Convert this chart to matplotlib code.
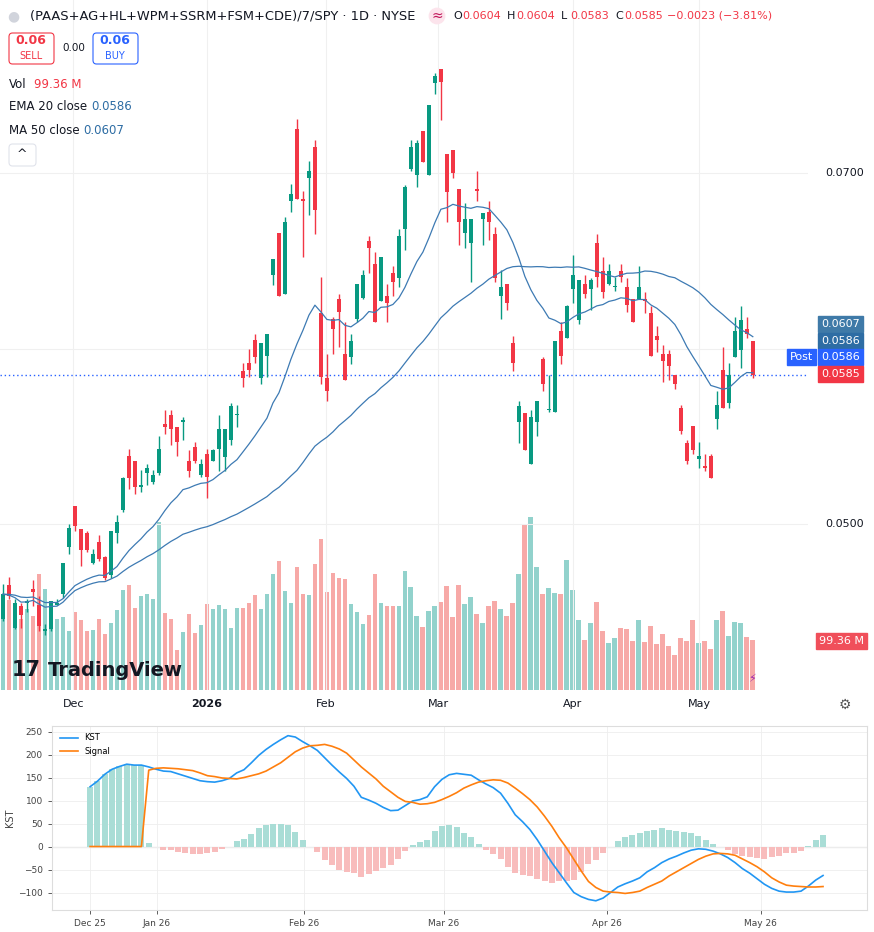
import numpy as np
import pandas as pd
import matplotlib
matplotlib.use("Agg")
import matplotlib.pyplot as plt
from matplotlib.patches import FancyBboxPatch

# ---------------- data (prices in thousandths) ----------------
O = [44.6,46.5,44.1,45.3,45.5,46.3,45.4,43.9,44.0,45.4,46.0,48.7,51.0,49.7,49.5,47.8,49.0,48.1,47.1,49.5,
     50.8,53.9,53.6,52.1,52.9,52.4,52.9,55.7,56.2,55.5,55.8,53.6,54.4,52.8,54.0,53.6,54.3,53.8,54.8,56.2,
     58.7,59.2,60.5,58.3,59.6,64.2,66.6,63.1,68.4,72.5,68.5,69.7,71.5,62.0,58.3,61.7,62.8,59.7,59.5,61.7,
     62.9,66.1,64.8,62.7,63.0,64.3,64.0,66.8,70.2,69.9,72.4,69.9,75.1,75.9,71.1,71.3,69.1,66.6,66.0,69.1,
     67.4,67.8,66.5,63.0,63.7,60.3,55.8,56.3,53.4,55.8,59.4,56.5,56.4,61.0,60.6,63.4,61.6,63.7,63.4,66.0,
     64.4,63.7,63.5,64.4,63.5,62.8,62.8,62.8,62.0,60.7,59.7,59.7,58.5,56.6,54.6,55.6,53.7,53.3,53.9,56.0,
     58.8,56.9,59.5,59.9,61.1,60.4]
C = [46.0,45.9,45.5,44.8,45.6,46.1,44.2,44.0,45.6,45.5,47.8,49.8,49.9,48.5,48.5,48.3,48.0,46.9,49.6,50.1,
     52.6,52.6,52.1,52.2,53.2,52.8,54.3,55.5,55.4,54.7,55.9,53.0,53.6,53.4,52.7,54.2,55.4,55.4,56.7,56.2,
     58.3,58.8,59.5,60.3,60.8,65.1,63.0,67.2,68.8,68.5,68.4,70.1,67.9,58.4,57.6,61.1,62.1,58.2,60.4,63.7,
     64.2,65.7,61.5,65.2,62.6,63.8,66.4,69.2,71.5,71.7,70.6,73.9,75.5,75.2,68.9,70.0,67.2,67.4,67.4,69.0,
     67.7,67.2,64.0,63.5,62.6,59.2,56.7,54.2,56.1,57.0,58.0,56.5,60.4,59.6,62.4,64.2,63.9,63.1,63.9,64.1,
     63.2,64.4,63.5,64.1,62.5,61.5,63.5,62.7,59.6,60.5,59.3,59.0,58.0,55.3,53.6,54.2,53.9,53.2,52.6,56.8,
     56.6,58.5,61.0,61.6,60.8,58.5]
H = [46.6,47.0,45.7,45.5,45.7,46.8,45.9,44.3,45.6,45.7,47.8,50.0,51.0,49.7,49.6,48.6,49.4,48.2,49.6,50.5,
     52.7,54.3,53.6,53.1,53.4,53.1,55.0,56.5,56.5,55.5,56.1,54.2,54.7,53.7,54.3,54.3,56.2,55.4,56.9,56.8,
     59.2,60.0,60.8,60.3,60.8,65.1,66.6,67.5,69.4,73.1,69.0,70.7,71.9,64.1,59.7,61.8,63.1,61.5,60.8,63.7,
     64.5,66.4,65.5,65.2,63.7,64.7,66.8,69.3,71.9,71.9,72.4,73.9,75.7,75.9,71.1,71.3,69.1,68.3,67.4,70.1,
     67.7,68.4,66.9,64.5,63.7,60.7,57.0,56.3,56.5,57.0,59.5,58.5,60.4,61.5,62.5,65.3,63.9,64.2,64.0,66.5,
     65.2,64.8,64.1,64.8,64.0,62.8,64.7,63.2,62.4,61.3,60.2,59.9,58.5,56.8,54.8,55.6,54.7,54.0,54.0,57.6,
     60.1,59.2,61.8,62.4,61.8,60.4]
L = [44.5,45.7,44.0,44.1,45.0,45.3,43.9,43.7,43.9,45.4,45.8,48.3,49.6,47.6,48.4,47.7,47.9,46.8,46.9,48.9,
     50.7,52.0,51.7,51.8,52.2,52.3,52.8,55.1,54.5,53.9,54.8,52.7,53.5,52.7,51.5,53.6,53.0,53.0,54.5,55.5,
     57.8,58.4,59.2,58.0,58.4,63.6,63.0,63.1,67.8,68.5,65.2,67.6,66.5,58.0,57.0,59.7,60.1,58.2,59.1,61.5,
     62.8,64.3,61.5,62.7,61.5,63.0,63.5,65.6,70.1,69.2,70.6,69.9,74.5,73.0,67.2,69.7,65.9,65.7,63.8,68.4,
     65.9,66.2,63.8,61.7,62.2,58.7,54.6,54.2,53.4,55.0,57.6,56.4,56.4,59.1,60.6,62.6,61.4,62.9,62.2,63.5,
     62.9,63.6,63.3,63.8,62.1,61.5,62.8,62.0,59.6,59.8,58.1,58.2,57.7,55.1,53.4,54.0,53.2,53.0,52.6,55.4,
     56.6,56.6,59.5,58.9,60.6,58.3]
VOL_M = [148,180,154,142,162,148,232,202,142,142,146,118,156,140,118,120,142,112,134,160,200,210,164,188,
         192,182,336,154,142,80,116,152,114,130,172,162,170,162,124,164,164,
         174,190,162,192,232,258,198,174,246,192,190,252,302,196,234,224,222,172,156,132,
         150,232,174,168,168,168,238,206,148,126,158,168,176,208,146,210,172,186,152,134,
         168,178,162,148,174,232,330,346,246,192,204,194,192,260,200,140,100,134,176,118,
         94,104,124,122,98,140,96,128,92,112,88,70,104,98,140,94,98,82,140,158,
         108,136,134,106,99.36]
month_labels = ["Dec", "2026", "Feb", "Mar", "Apr", "May"]
month_pos = [11.7, 34.0, 53.8, 72.5, 95.0, 116.0]

KST = [130,142,157,168,174,179,177,177,173,168, 164,163,158,153,148,143,141,140,143,148,
       160,167,182,198,211,222,232,241,238,228, 219,209,193,177,162,148,131,107,101,94,
       85,78,79,89,99,102,108,130,146,156, 159,157,155,145,136,128,116,94,69,54,
       37,15,-10,-35,-57,-79,-100,-109,-115,-118, -112,-100,-88,-81,-75,-68,-55,-46,-35,-27,
       -21,-14,-8,-5,-6,-10,-16,-24,-35,-48, -58,-70,-82,-91,-97,-99,-99,-97,-86,-73, -63]
SIGNAL = [0,0,0,0,0,0,0,0,166,170, 171,170,169,167,165,160,154,152,149,148,
          147,150,154,158,164,173,182,194,206,214, 219,220,222,218,212,203,188,173,160,147,
          131,119,107,98,96,92,93,96,102,109, 117,127,134,140,143,145,144,138,127,115,
          102,86,66,44,19,-3,-28,-53,-76,-89, -97,-99,-100,-102,-100,-97,-89,-82,-75,-64,
          -55,-46,-37,-28,-21,-16,-15,-16,-19,-27, -35,-44,-55,-68,-77,-84,-86,-87,-88,-88, -87]
kst_tick_labels = ["Dec 25", "Jan 26", "Feb 26", "Mar 26", "Apr 26", "May 26"]
kst_tick_pos = [0, 9.1, 29.2, 48.3, 70.5, 91.5]

# ---------------- figure ----------------
W, Hh = 874, 932
fig = plt.figure(figsize=(W/100, Hh/100), dpi=100)
plt.rcParams['font.family'] = ['DejaVu Sans']

def fx(x): return x / W
def fy(y): return 1 - y / Hh

GREEN, RED = '#089981', '#f23645'
VG, VR = '#92d2cc', '#f7a9a7'

o = np.array(O) / 1000; c = np.array(C) / 1000
h = np.array(H) / 1000; l = np.array(L) / 1000
n = len(o); idx = np.arange(n)
up = c >= o

ax = fig.add_axes([0, fy(690), fx(808), 690 / Hh])
axv = ax.twinx()
axv.set_zorder(0); ax.set_zorder(1); ax.patch.set_visible(False)
axv.bar(idx, VOL_M, width=0.8, color=[VG if u else VR for u in up], linewidth=0)
axv.set_ylim(0, 1380)
axv.axis('off')

ppx = 0.02 / 351
ax.set_ylim(0.07 - 517 * ppx, 0.07 + 173 * ppx)
ax.set_xlim(-0.5, 134.2)
for p in [0.05, 0.06, 0.07]:
    ax.axhline(p, color='#f0f0f0', lw=0.8, zorder=0)
for m in month_pos:
    ax.axvline(m, color='#f0f0f0', lw=0.8, zorder=0)

cols = np.where(up, GREEN, RED)
ax.vlines(idx, l, h, colors=cols, lw=1.0, zorder=2)
body = np.maximum(np.abs(c - o), 0.00006)
ax.bar(idx, body, bottom=np.minimum(o, c), width=0.7, color=cols, linewidth=0, zorder=3)

cs = pd.Series(c)
ema20 = cs.ewm(span=20, adjust=False).mean()
ma50 = cs.rolling(50, min_periods=1).mean()
ax.plot(idx, ema20, color='#3d7ab3', lw=0.9, zorder=4)
ax.plot(idx, ma50, color='#3d7ab3', lw=0.9, zorder=4)
ax.axhline(c[-1], color='#2962ff', lw=1, ls=(0, (1, 2)), zorder=1)
ax.set_xticks([]); ax.set_yticks([])
for s in ax.spines.values():
    s.set_visible(False)

fig.text(fx(825), fy(173), "0.0700", fontsize=8, va='center', color='#131722')
fig.text(fx(825), fy(524), "0.0500", fontsize=8, va='center', color='#131722')
def label(xp, yp, txt, bg, fc='white'):
    fig.text(fx(xp), fy(yp), txt, fontsize=8, va='center', ha='left', color=fc,
             bbox=dict(boxstyle='square,pad=0.25', fc=bg, ec=bg))
label(821, 324, "0.0607", '#3f7aa8')
label(821, 341, "0.0586", '#2e6da4')
label(821, 357, "0.0586", '#2962ff')
label(790, 357, "Post", '#2962ff')
label(821, 374, "0.0585", RED)
label(819, 641, "99.36 M", '#f04f5a')

for lab, m in zip(month_labels, month_pos):
    xp = 3 + 6 * m
    fig.text(fx(xp), fy(704), lab, fontsize=8, ha='center', va='center', color='#131722',
             fontweight='bold' if lab == "2026" else 'normal')
fig.text(fx(845), fy(705), "\u2699", fontsize=10, ha='center', va='center', color='#555')
fig.text(fx(752), fy(679), "\u26a1", fontsize=8, ha='center', va='center', color='#9c27b0')

fig.text(fx(13), fy(16), "\u25cf", fontsize=10, ha='center', va='center', color='#d1d4dc')
fig.text(fx(30), fy(16), "(PAAS+AG+HL+WPM+SSRM+FSM+CDE)/7/SPY \u00b7 1D \u00b7 NYSE",
         fontsize=9.4, va='center', color='#131722')
fig.text(fx(437), fy(16), "\u2248", fontsize=10, ha='center', va='center', color='#c2185b',
         bbox=dict(boxstyle='circle,pad=0.1', fc='#fce4ec', ec='none'))
hdr = [("O", "0.0604"), ("H", "0.0604"), ("L", "0.0583"), ("C", "0.0585")]
xs = 453
for k, v in hdr:
    fig.text(fx(xs), fy(16), k, fontsize=8, va='center', color='#131722')
    fig.text(fx(xs + 9), fy(16), v, fontsize=8, va='center', color=RED)
    xs += 54
fig.text(fx(667), fy(16), "\u22120.0023 (\u22123.81%)", fontsize=8, va='center', color=RED)

for (x0, col, val, t) in [(9, RED, "0.06", "SELL"), (93, '#2962ff', "0.06", "BUY")]:
    fig.patches.append(FancyBboxPatch((fx(x0), fy(64)), fx(45), 31 / Hh,
                       boxstyle='round,pad=0,rounding_size=0.004', fc='white', ec=col, lw=0.8,
                       transform=fig.transFigure))
    fig.text(fx(x0 + 22), fy(41), val, fontsize=9, ha='center', va='center', color=col, fontweight='bold')
    fig.text(fx(x0 + 22), fy(56), t, fontsize=7, ha='center', va='center', color=col)
fig.text(fx(74), fy(48), "0.00", fontsize=7.5, ha='center', va='center', color='#131722')

fig.text(fx(9), fy(84), "Vol", fontsize=8.5, va='center', color='#131722')
fig.text(fx(34), fy(84), "99.36 M", fontsize=8.5, va='center', color=RED)
fig.text(fx(9), fy(106), "EMA 20 close", fontsize=8.5, va='center', color='#131722')
fig.text(fx(91), fy(106), "0.0586", fontsize=8.5, va='center', color='#2e6da4')
fig.text(fx(9), fy(130), "MA 50 close", fontsize=8.5, va='center', color='#131722')
fig.text(fx(83), fy(130), "0.0607", fontsize=8.5, va='center', color='#2e6da4')
fig.patches.append(FancyBboxPatch((fx(9), fy(166)), fx(27), 22 / Hh,
                   boxstyle='round,pad=0,rounding_size=0.004', fc='white', ec='#e0e3eb', lw=0.8,
                   transform=fig.transFigure))
fig.text(fx(22), fy(155), "^", fontsize=9, ha='center', va='center', color='#131722')

fig.text(fx(12), fy(670), "17", fontsize=15, va='center', color='#131722', fontweight='heavy')
fig.text(fx(48), fy(670), "TradingView", fontsize=14, va='center', color='#131722', fontweight='bold')

# ---------------- KST panel ----------------
axk = fig.add_axes([fx(52), fy(910), fx(867 - 52), (910 - 726) / Hh])
kst = np.array(KST, float); sig = np.array(SIGNAL, float)
hist = kst - sig
ki = np.arange(len(kst))
axk.bar(ki, hist, width=0.82, color=np.where(hist >= 0, '#a9ddd6', '#f8bcbc'), linewidth=0, zorder=2)
axk.plot(ki, kst, color='#2196f3', lw=1.2, label='KST', zorder=3)
axk.plot(ki, sig, color='#ff7f0e', lw=1.2, label='Signal', zorder=3)
axk.axhline(0, color='#e6e6e6', lw=1, zorder=1)
axk.set_xlim(-5.2, 106)
axk.set_ylim(-138, 262)
axk.set_yticks([-100, -50, 0, 50, 100, 150, 200, 250])
axk.set_xticks(kst_tick_pos)
axk.set_xticklabels(kst_tick_labels)
axk.tick_params(labelsize=6.5, colors='#444', length=3, width=0.6)
axk.set_ylabel("KST", fontsize=7, color='#444', labelpad=2)
axk.grid(True, color='#eeeeee', lw=0.6)
for s in axk.spines.values():
    s.set_color('#dddddd')
axk.legend(loc='upper left', fontsize=6, frameon=False, handlelength=2.2)

fig.savefig("out.png", dpi=100)
